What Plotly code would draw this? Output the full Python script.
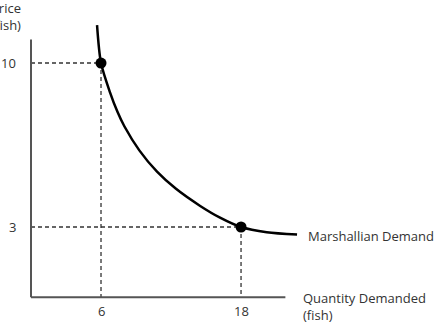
import plotly.graph_objects as go

# Data
curve_x = [5.66, 6.0, 6.77, 7.4, 8.0, 9.3, 10.8, 12.4, 14.5, 16.2, 18.0, 20.2, 22.8]
curve_y = [11.62, 10.0, 8.75, 7.93, 7.30, 6.26, 5.36, 4.64, 3.9, 3.4, 3.0, 2.78, 2.68]
point_x = [6, 18]
point_y = [10, 3]
x_tick_vals = [6, 18]
x_tick_text = ["6", "18"]
y_tick_vals = [10, 3]
y_tick_text = ["10", "3"]
x_axis_max = 21.8
y_axis_max = 11.0

FONT = "Open Sans"
TXT = "#333333"
FS = 13

fig = go.Figure()

# guide dashed lines
for px_, py_ in zip(point_x, point_y):
    fig.add_trace(go.Scatter(x=[0, px_, px_], y=[py_, py_, 0], mode="lines",
                             line=dict(color="#333333", width=1.3, dash="4px,3px"),
                             hoverinfo="skip", showlegend=False))

# axes
fig.add_shape(type="line", x0=0, y0=0, x1=0, y1=y_axis_max, line=dict(color="#555555", width=2))
fig.add_shape(type="line", x0=0, y0=0, x1=x_axis_max, y1=0, line=dict(color="#555555", width=2))

# demand curve
fig.add_trace(go.Scatter(x=curve_x, y=curve_y, mode="lines",
                         line=dict(color="black", width=2.5, shape="spline", smoothing=0.8),
                         showlegend=False))
fig.add_trace(go.Scatter(x=point_x, y=point_y, mode="markers",
                         marker=dict(color="black", size=11), showlegend=False))

ann = []
for v, t in zip(x_tick_vals, x_tick_text):
    ann.append(dict(x=v, y=0, text=t, showarrow=False, yshift=-14,
                    font=dict(family=FONT, size=FS, color=TXT)))
for v, t in zip(y_tick_vals, y_tick_text):
    ann.append(dict(x=0, y=v, text=t, showarrow=False, xanchor="right", xshift=-13,
                    font=dict(family=FONT, size=FS, color=TXT)))
ann.append(dict(x=23.6, y=curve_y[-1], text="Marshallian Demand", showarrow=False,
                xanchor="left", yshift=-1, font=dict(family=FONT, size=FS, color=TXT)))
ann.append(dict(x=23.1, y=0, text="Quantity Demanded<br>(fish)", showarrow=False,
                xanchor="left", yanchor="top", align="left", yshift=10,
                font=dict(family=FONT, size=FS, color=TXT)))
ann.append(dict(x=0, y=12.69, text="Price<br>(fish)", showarrow=False,
                xanchor="right", yanchor="top", align="right", xshift=-8, yshift=3,
                font=dict(family=FONT, size=FS, color=TXT)))
fig.update_layout(annotations=ann)

fig.update_layout(
    width=438, height=330,
    margin=dict(l=0, r=0, t=0, b=0),
    paper_bgcolor="white", plot_bgcolor="white",
    xaxis=dict(range=[-2.657, 34.88], visible=False, fixedrange=True),
    yaxis=dict(range=[-1.396, 12.69], visible=False, fixedrange=True),
)

fig.write_html("out.html")
